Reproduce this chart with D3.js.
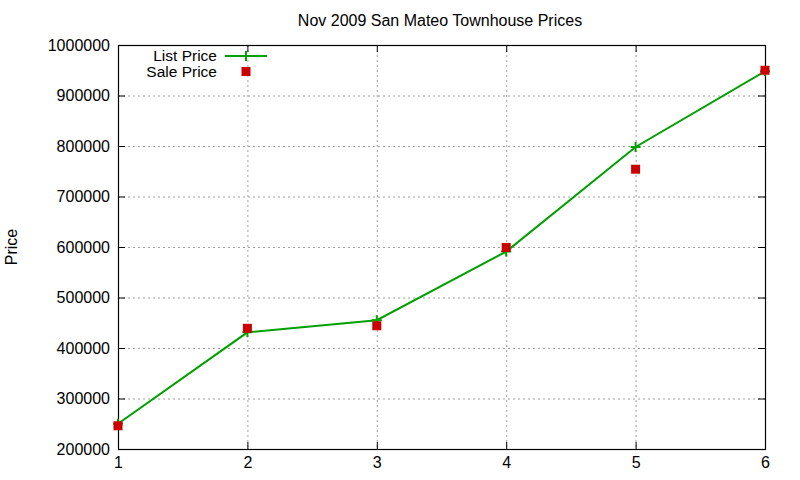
<!DOCTYPE html>
<html>
<head>
<meta charset="utf-8">
<script src="https://cdn.jsdelivr.net/npm/d3@7"></script>
<style>
  body { margin: 0; background: #fff; }
  text { font-family: "Liberation Sans", Arial, sans-serif; fill: #000; }
</style>
</head>
<body>
<svg id="chart" width="800" height="480"></svg>
<script>
"use strict";

const xs = [1, 2, 3, 4, 5, 6];
const listPrice = [250000, 431000, 455000, 591000, 798000, 948000];
const salePrice = [246000, 439000, 444000, 599000, 754000, 950000];
const yTicks = [200000, 300000, 400000, 500000, 600000, 700000, 800000, 900000, 1000000];

const svg = d3.select('#chart');
const m = {l: 118, r: 765, t: 45, b: 449};
const font = '"Liberation Sans", Arial, sans-serif';

let x = d3.scaleLinear().domain([1, 6]).range([m.l, m.r]);
let y = d3.scaleLinear().domain([200000, 1000000]).range([m.b, m.t]);

// grid
let grid = svg.append('g').attr('stroke', '#a0a0a0').attr('stroke-dasharray', '2,3').attr('stroke-width', 1);
xs.slice(1, -1).forEach(d => {
  grid.append('line').attr('x1', x(d) + .5).attr('x2', x(d) + .5).attr('y1', m.t).attr('y2', m.b);
});
yTicks.slice(1, -1).forEach(d => {
  grid.append('line').attr('x1', m.l).attr('x2', m.r).attr('y1', y(d) + .5).attr('y2', y(d) + .5);
});

// axes, ticks pointing inward on all sides
svg.append('g').attr('transform', `translate(${m.l},0)`)
  .call(d3.axisLeft(y).tickValues(yTicks).tickSize(-7).tickPadding(8).tickFormat(d3.format('d')))
  .call(g => g.select('.domain').remove())
  .call(g => g.selectAll('text').attr('font-size', 16).attr('font-family', font));
svg.append('g').attr('transform', `translate(${m.r},0)`)
  .call(d3.axisRight(y).tickValues(yTicks).tickSize(-7).tickFormat(''))
  .call(g => g.select('.domain').remove());
svg.append('g').attr('transform', `translate(0,${m.b})`)
  .call(d3.axisBottom(x).tickValues(xs).tickSize(-7).tickPadding(8).tickFormat(d3.format('d')))
  .call(g => g.select('.domain').remove())
  .call(g => g.selectAll('text').attr('font-size', 16).attr('font-family', font));
svg.append('g').attr('transform', `translate(0,${m.t})`)
  .call(d3.axisTop(x).tickValues(xs).tickSize(-7).tickFormat(''))
  .call(g => g.select('.domain').remove());

svg.append('rect').attr('x', m.l + .5).attr('y', m.t + .5).attr('width', m.r - m.l).attr('height', m.b - m.t)
  .attr('fill', 'none').attr('stroke', '#000').attr('stroke-width', 1.2);

// list price line
let pts = xs.map((d, i) => [x(d), y(listPrice[i])]);
svg.append('path').attr('d', d3.line()(pts)).attr('fill', 'none')
  .attr('stroke', '#00a000').attr('stroke-width', 2);

let plus = (g, cx, cy) => {
  g.append('path').attr('d', `M${cx - 5},${cy}H${cx + 5}M${cx},${cy - 5}V${cy + 5}`)
    .attr('stroke', '#00a000').attr('stroke-width', 2);
};
pts.forEach(p => plus(svg, p[0], p[1]));

// sale price points
svg.append('g').selectAll('rect').data(xs).join('rect')
  .attr('x', (d) => x(d) - 4.5).attr('y', (d, i) => y(salePrice[i]) - 4.5)
  .attr('width', 9).attr('height', 9).attr('fill', '#cc0000');

// legend
svg.append('text').attr('x', 217).attr('y', 61).attr('text-anchor', 'end').attr('font-size', 15.5).text('List Price');
svg.append('line').attr('x1', 225).attr('x2', 267).attr('y1', 56).attr('y2', 56)
  .attr('stroke', '#00a000').attr('stroke-width', 2);
plus(svg, 246, 56);
svg.append('text').attr('x', 217).attr('y', 77).attr('text-anchor', 'end').attr('font-size', 15.5).text('Sale Price');
svg.append('rect').attr('x', 241.5).attr('y', 67).attr('width', 9).attr('height', 9).attr('fill', '#cc0000');

// titles
svg.append('text').attr('x', 440).attr('y', 26).attr('text-anchor', 'middle').attr('font-size', 16)
  .text('Nov 2009 San Mateo Townhouse Prices');
svg.append('text').attr('transform', 'translate(17,247) rotate(-90)').attr('text-anchor', 'middle')
  .attr('font-size', 16).text('Price');
</script>
</body>
</html>
